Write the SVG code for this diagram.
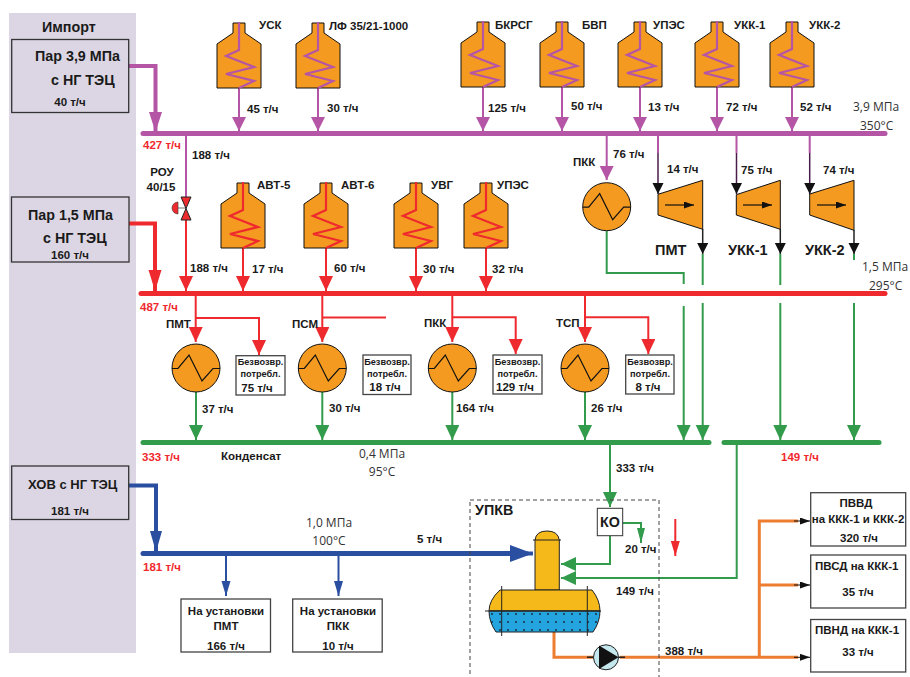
<svg xmlns="http://www.w3.org/2000/svg" width="910" height="677" viewBox="0 0 910 677">
<style>
text{font-family:"Liberation Sans",Arial,sans-serif;font-weight:700;font-size:11.5px;fill:#1a1a1a}
.r{fill:#f0282d}
.m{text-anchor:middle}
.big{font-size:14.3px}
.hov{font-size:13px}
.t14{font-size:14.5px}
.sm{font-size:9.2px;text-anchor:middle}
.n{font-family:"Open Sans",sans-serif;font-weight:400;font-size:12px;fill:#333}
.box{fill:#fff;stroke:#444;stroke-width:1.3}
.ipt{fill:#dcd6e4;stroke:#333;stroke-width:1.3}
.l{fill:none;stroke-linejoin:miter}
.p{stroke:#b455a5}.rd{stroke:#ee2a2e}.g{stroke:#339b4c}.b{stroke:#2a4ea0}.o{stroke:#ed7d31}.k{stroke:#111}
.w2{stroke-width:2}.w3{stroke-width:4}.bus{stroke-width:5;stroke-linecap:round}
.hx{fill:#f49a20;stroke:#111;stroke-width:1}
</style>
<defs>
<marker id="ap" markerUnits="userSpaceOnUse" markerWidth="14" markerHeight="16" refX="14" refY="7" orient="auto"><path d="M0 0L14 7L0 14z" fill="#b455a5"/></marker>
<marker id="ar" markerUnits="userSpaceOnUse" markerWidth="15" markerHeight="16" refX="15" refY="7" orient="auto"><path d="M0 0L15 7L0 14z" fill="#ee2a2e"/></marker>
<marker id="ars" markerUnits="userSpaceOnUse" markerWidth="15" markerHeight="10" refX="15" refY="4.500" orient="auto"><path d="M0 0L15 4.500L0 9z" fill="#ee2a2e"/></marker>
<marker id="ag" markerUnits="userSpaceOnUse" markerWidth="15" markerHeight="16" refX="15" refY="7" orient="auto"><path d="M0 0L15 7L0 14z" fill="#339b4c"/></marker>
<marker id="ags" markerUnits="userSpaceOnUse" markerWidth="15" markerHeight="10" refX="15" refY="4" orient="auto"><path d="M0 0L15 4L0 8z" fill="#339b4c"/></marker>
<marker id="ab" markerUnits="userSpaceOnUse" markerWidth="15" markerHeight="10" refX="15" refY="4.500" orient="auto"><path d="M0 0L15 4.500L0 9z" fill="#2a4ea0"/></marker>
<marker id="ak" markerUnits="userSpaceOnUse" markerWidth="11" markerHeight="12" refX="11" refY="5.500" orient="auto"><path d="M0 0L11 5.500L0 11z" fill="#111"/></marker>
<marker id="ak2" markerUnits="userSpaceOnUse" markerWidth="10" markerHeight="8" refX="10" refY="3.500" orient="auto"><path d="M0 0L10 3.500L0 7z" fill="#111"/></marker>
<marker id="apb" markerUnits="userSpaceOnUse" markerWidth="20" markerHeight="14" refX="20" refY="6.500" orient="auto"><path d="M0 0L20 6.500L0 13z" fill="#b455a5"/></marker>
<marker id="arb" markerUnits="userSpaceOnUse" markerWidth="21" markerHeight="14" refX="21" refY="6.500" orient="auto"><path d="M0 0L21 6.500L0 13z" fill="#ee2a2e"/></marker>
<marker id="abb" markerUnits="userSpaceOnUse" markerWidth="21" markerHeight="14" refX="21" refY="6" orient="auto"><path d="M0 0L21 6L0 12z" fill="#2a4ea0"/></marker>
<marker id="abh" markerUnits="userSpaceOnUse" markerWidth="23" markerHeight="18" refX="23" refY="8.500" orient="auto"><path d="M0 0L23 8.500L0 17z" fill="#2a4ea0"/></marker>
<symbol id="boil" overflow="visible"><path d="M-6 0H6V10L22 21V65H-22V21L-6 10z" fill="#f49a20" stroke="#111" stroke-width="1"/></symbol>
<symbol id="he" overflow="visible"><circle r="24" class="hx"/><path d="M-24 .5H-18L-7 -13L6 13L17 .5H24" fill="none" stroke="#111" stroke-width="1.200"/></symbol>
<path id="coil" d="M0 -1V27L-13 33L15 44L-13 51L15 58L0 65" fill="none" stroke-width="2.200"/>
<pattern id="dots" width="8" height="8" patternUnits="userSpaceOnUse" patternTransform="translate(489 611)"><rect width="8" height="8" fill="#25a5df"/><circle cx="3" cy="3" r=".9" fill="#123"/></pattern>
</defs>

<rect id="import-panel" x="9" y="13" width="127" height="640" fill="#dcd6e4"/>
<text x="42" y="32" class="big">Импорт</text>

<g id="connectors">
<path class="l p bus" d="M143 133.500H885"/>
<path class="l rd bus" d="M141 293.500H885"/>
<path class="l g bus" d="M143 442.500H709"/>
<path class="l g bus" d="M724 442.500H879"/>
<path class="l b bus" d="M143 553.500H511"/>
<path class="l b w3" d="M511 553.500H533" marker-end="url(#abh)"/>

<path class="l p w3" d="M128 66H155.500V132" marker-end="url(#apb)"/>
<path class="l rd w3" d="M128 223.500H155V291" marker-end="url(#arb)"/>
<path class="l b w3" d="M129 485.500H156V552" marker-end="url(#abb)"/>

<g class="l p w2" fill="none">
<path d="M239 88V131" marker-end="url(#ap)"/>
<path d="M318 88V131" marker-end="url(#ap)"/>
<path d="M483 87V131" marker-end="url(#ap)"/>
<path d="M562 87V131" marker-end="url(#ap)"/>
<path d="M640 87V131" marker-end="url(#ap)"/>
<path d="M717 87V131" marker-end="url(#ap)"/>
<path d="M792 87V131" marker-end="url(#ap)"/>
<path d="M606.700 133V180" marker-end="url(#ap)"/>
<path d="M186 133V197"/>
<path d="M658 133V153"/><path d="M736.500 133V153"/><path d="M809.700 133V153"/>
</g>
<g fill="none" stroke="#4a1c4a" stroke-width="1.500">
<path d="M658 153V194" marker-end="url(#ak)"/>
<path d="M736.500 153V194" marker-end="url(#ak)"/>
<path d="M809.700 153V194" marker-end="url(#ak)"/>
</g>
<g fill="none" stroke="#222" stroke-width="1.500">
<path d="M702.700 229V254" marker-end="url(#ak)"/>
<path d="M780.300 229V254" marker-end="url(#ak)"/>
<path d="M854 230V254" marker-end="url(#ak)"/>
</g>
<g class="l g w2">
<path d="M702.700 254V285"/><path d="M780.300 254V285"/><path d="M854 254V260"/>
<path d="M606.700 231V273H683.700V284"/>
<path d="M683.700 306V440" marker-end="url(#ag)"/>
<path d="M702.700 303V440" marker-end="url(#ag)"/>
<path d="M780.300 303V440" marker-end="url(#ag)"/>
<path d="M854 303V440" marker-end="url(#ag)"/>
<path d="M196 392V440" marker-end="url(#ag)"/>
<path d="M322.300 392V440" marker-end="url(#ag)"/>
<path d="M452.300 392V440" marker-end="url(#ag)"/>
<path d="M585 392V440" marker-end="url(#ag)"/>
<path d="M610 445V507" marker-end="url(#ag)"/>
<path d="M622.700 523H641V543" marker-end="url(#ags)"/>
<path d="M610 536V564H561" marker-end="url(#ag)"/>
<path d="M736.700 445V578H561" marker-end="url(#ag)"/>
</g>
<g class="l rd w2">
<path d="M186 220V291" marker-end="url(#ar)"/>
<path d="M243 248V291" marker-end="url(#ar)"/>
<path d="M326 248V291" marker-end="url(#ar)"/>
<path d="M416 248V291" marker-end="url(#ar)"/>
<path d="M486 248V291" marker-end="url(#ar)"/>
<path d="M195.700 293V342" marker-end="url(#ar)"/>
<path d="M195.700 318H259V355" marker-end="url(#ar)"/>
<path d="M322.300 293V342" marker-end="url(#ar)"/>
<path d="M322.300 317.500H386"/>
<path d="M452.300 293V342" marker-end="url(#ar)"/>
<path d="M452.300 317.300H515.700V354" marker-end="url(#ar)"/>
<path d="M585 293V342" marker-end="url(#ar)"/>
<path d="M585 317.300H648.300V354" marker-end="url(#ar)"/>
<path d="M675.300 519V556" marker-end="url(#ars)"/>
</g>
<g class="l b w2">
<path d="M226 553V596" marker-end="url(#ab)"/>
<path d="M338.500 553V596" marker-end="url(#ab)"/>
</g>
<g class="l o" stroke-width="3">
<path d="M554 632V657.300H594"/>
<path d="M620 657.300H798"/>
<path d="M798 521H759.300V657.300"/>
<path d="M759.300 585H798"/>
</g>
<g fill="none" stroke="#111" stroke-width="1">
<path d="M794 521H810" marker-end="url(#ak2)"/>
<path d="M794 585H810" marker-end="url(#ak2)"/>
<path d="M794 657.300H810" marker-end="url(#ak2)"/>
</g>
</g>

<g id="imp-39"><rect class="ipt" x="11.700" y="39.500" width="117" height="73"/><text x="35" y="61" class="big">Пар 3,9 МПа</text><text x="51" y="85" class="big">с НГ ТЭЦ</text><text x="70" y="106" class="m">40 т/ч</text></g>
<g id="imp-15"><rect class="ipt" x="11.500" y="197" width="117.500" height="65"/><text x="28" y="220" class="big">Пар 1,5 МПа</text><text x="43" y="243" class="big">с НГ ТЭЦ</text><text x="70" y="259" class="m">160 т/ч</text></g>
<g id="imp-hov"><rect class="ipt" x="11.700" y="466" width="117" height="53.500"/><text x="28" y="489" class="hov">ХОВ с НГ ТЭЦ</text><text x="70" y="515" class="m">181 т/ч</text></g>

<g id="b-usk"><use href="#boil" x="239" y="23"/><use href="#coil" x="239" y="23" stroke="#b455a5"/><text x="259" y="29">УСК</text></g>
<g id="b-lf"><use href="#boil" x="318" y="23"/><use href="#coil" x="318" y="23" stroke="#b455a5"/><text x="329" y="30">ЛФ 35/21-1000</text></g>
<g id="b-bkrsg"><use href="#boil" x="483" y="22"/><use href="#coil" x="483" y="22" stroke="#b455a5"/><text x="495" y="29">БКРСГ</text></g>
<g id="b-bvp"><use href="#boil" x="562" y="22"/><use href="#coil" x="562" y="22" stroke="#b455a5"/><text x="582" y="29">БВП</text></g>
<g id="b-upes1"><use href="#boil" x="640" y="22"/><use href="#coil" x="640" y="22" stroke="#b455a5"/><text x="653" y="29">УПЭС</text></g>
<g id="b-ukk1"><use href="#boil" x="717" y="22"/><use href="#coil" x="717" y="22" stroke="#b455a5"/><text x="734" y="29">УКК-1</text></g>
<g id="b-ukk2"><use href="#boil" x="792" y="22"/><use href="#coil" x="792" y="22" stroke="#b455a5"/><text x="809" y="29">УКК-2</text></g>

<g id="b-avt5"><use href="#boil" x="243" y="183"/><use href="#coil" x="243" y="183" stroke="#ee2a2e"/><text x="257" y="189">АВТ-5</text></g>
<g id="b-avt6"><use href="#boil" x="326" y="183"/><use href="#coil" x="326" y="183" stroke="#ee2a2e"/><text x="341" y="189">АВТ-6</text></g>
<g id="b-uvg"><use href="#boil" x="416" y="183"/><use href="#coil" x="416" y="183" stroke="#ee2a2e"/><text x="431" y="189">УВГ</text></g>
<g id="b-upes2"><use href="#boil" x="486" y="183"/><use href="#coil" x="486" y="183" stroke="#ee2a2e"/><text x="497" y="189">УПЭС</text></g>

<g id="rou">
<path d="M186 208H178" stroke="#777" stroke-width="1"/>
<path d="M178 202A6 6 0 0 0 178 214z" fill="#ee2a2e" stroke="#333" stroke-width=".6"/>
<path d="M181 197H191L181 220H191z" fill="#ee2a2e" stroke="#222" stroke-width="1"/>
<text x="162" y="176" class="m">РОУ</text><text x="161" y="191" class="m">40/15</text>
</g>

<g id="he-pkk-top"><use href="#he" x="606.700" y="206.700"/><text x="573" y="166">ПКК</text></g>
<g id="he-pmt"><use href="#he" x="196" y="368"/><text x="166" y="328">ПМТ</text></g>
<g id="he-psm"><use href="#he" x="322.300" y="368"/><text x="292" y="328">ПСМ</text></g>
<g id="he-pkk"><use href="#he" x="452.300" y="368"/><text x="424" y="327">ПКК</text></g>
<g id="he-tsp"><use href="#he" x="585" y="368"/><text x="556" y="327">ТСП</text></g>

<g id="t-pmt"><path class="hx" d="M658 194.300L702.700 180.300V229.300L658 215z"/><path d="M665 205H694" stroke="#111" stroke-width="1.200" marker-end="url(#ak2)"/><text x="655" y="255" class="t14">ПМТ</text></g>
<g id="t-ukk1"><path class="hx" d="M736.300 194.700L780.300 180.300V229.300L736.300 215z"/><path d="M743 205H772" stroke="#111" stroke-width="1.200" marker-end="url(#ak2)"/><text x="728" y="255" class="t14">УКК-1</text></g>
<g id="t-ukk2"><path class="hx" d="M809.700 194L854 180.300V230.300L809.700 215z"/><path d="M817 205H846" stroke="#111" stroke-width="1.200" marker-end="url(#ak2)"/><text x="805" y="255" class="t14">УКК-2</text></g>

<g id="c-pmt"><rect class="box" x="236" y="355.700" width="49" height="39.300"/><text x="260.500" y="365" class="sm">Безвозвр.</text><text x="260.500" y="377" class="sm">потребл.</text><text x="257" y="392" class="m">75 т/ч</text></g>
<g id="c-psm"><rect class="box" x="363" y="355" width="48" height="39.500"/><text x="387" y="365" class="sm">Безвозвр.</text><text x="387" y="377" class="sm">потребл.</text><text x="385" y="391" class="m">18 т/ч</text></g>
<g id="c-pkk"><rect class="box" x="493" y="355" width="49" height="39"/><text x="517.500" y="365" class="sm">Безвозвр.</text><text x="517.500" y="377" class="sm">потребл.</text><text x="515" y="391" class="m">129 т/ч</text></g>
<g id="c-tsp"><rect class="box" x="625.700" y="355" width="48.300" height="39"/><text x="650" y="365" class="sm">Безвозвр.</text><text x="650" y="377" class="sm">потребл.</text><text x="648" y="391" class="m">8 т/ч</text></g>

<g id="upkv">
<rect x="470" y="500" width="189" height="185" fill="none" stroke="#444" stroke-width="1" stroke-dasharray="4 3"/>
<text x="475" y="515" class="big">УПКВ</text>
<path d="M535 590V540Q536 531 547 531Q558 531 559.300 540V590z" fill="#f6b91a" stroke="#222" stroke-width="1"/>
<path d="M533 540H561" stroke="#222" stroke-width="1"/>
<path d="M500 590H592Q600 600 600 611H489Q489 600 500 590z" fill="#f6b91a" stroke="#222" stroke-width="1"/>
<path d="M489 611H600Q600 622 593 632H496Q489 622 489 611z" fill="url(#dots)" stroke="#222" stroke-width="1"/>
<path d="M485 611H601M501.700 586V636M587.300 586V636" stroke="#222" stroke-width="1" fill="none"/>
</g>
<g id="ko"><rect x="597.300" y="508.300" width="25.400" height="27.400" fill="#fff" stroke="#333" stroke-width="1"/><text x="610" y="527" class="m big">КО</text></g>
<g id="pump"><path d="M587 657.300H625" stroke="#222" stroke-width="1.500"/><circle cx="606" cy="657.300" r="12.500" fill="#c5e8ee" stroke="#222" stroke-width="1"/><path d="M599 645.500L618.500 657.300L599 669z" fill="#111"/></g>

<g id="d-pmt"><rect class="box" x="181" y="599" width="89.500" height="53"/><text x="226" y="615" class="m">На установки</text><text x="226" y="630" class="m">ПМТ</text><text x="226" y="650" class="m">166 т/ч</text></g>
<g id="d-pkk"><rect class="box" x="292.700" y="599" width="89.500" height="53"/><text x="338" y="615" class="m">На установки</text><text x="338" y="630" class="m">ПКК</text><text x="338" y="650" class="m">10 т/ч</text></g>
<g id="d-pvvd"><rect class="box" x="810.700" y="492.700" width="95" height="53.300"/><text x="856" y="507" class="m">ПВВД</text><text x="858" y="523" class="m">на ККК-1 и ККК-2</text><text x="859" y="542" class="m">320 т/ч</text></g>
<g id="d-pvsd"><rect class="box" x="810.700" y="555" width="95" height="53"/><text x="815" y="570">ПВСД на ККК-1</text><text x="858" y="596" class="m">35 т/ч</text></g>
<g id="d-pvnd"><rect class="box" x="810.700" y="619.500" width="95" height="52.500"/><text x="815" y="634">ПВНД на ККК-1</text><text x="858" y="656" class="m">33 т/ч</text></g>

<g id="labels">
<text x="247" y="113">45 т/ч</text><text x="327" y="112">30 т/ч</text><text x="488" y="112">125 т/ч</text><text x="571" y="110">50 т/ч</text><text x="648" y="111">13 т/ч</text><text x="726" y="111">72 т/ч</text><text x="800" y="111">52 т/ч</text>
<text x="192" y="159">188 т/ч</text><text x="190" y="272">188 т/ч</text>
<text x="143" y="149" class="r">427 т/ч</text><text x="140" y="311" class="r">487 т/ч</text><text x="142" y="461" class="r">333 т/ч</text><text x="781" y="461" class="r">149 т/ч</text><text x="143" y="571" class="r">181 т/ч</text>
<text x="252" y="273">17 т/ч</text><text x="334" y="272">60 т/ч</text><text x="423" y="273">30 т/ч</text><text x="492" y="273">32 т/ч</text>
<text x="613" y="158">76 т/ч</text><text x="667" y="173">14 т/ч</text><text x="741" y="174">75 т/ч</text><text x="823" y="174">74 т/ч</text>
<text x="202" y="413">37 т/ч</text><text x="329" y="412">30 т/ч</text><text x="456" y="412">164 т/ч</text><text x="591" y="412">26 т/ч</text>
<text x="221" y="460">Конденсат</text>
<text x="616" y="472">333 т/ч</text><text x="625" y="553">20 т/ч</text><text x="616" y="595">149 т/ч</text><text x="665" y="655">388 т/ч</text><text x="417" y="543">5 т/ч</text>
<text x="853" y="111" class="n">3,9 МПа</text><text x="860" y="130" class="n">350°С</text>
<text x="862" y="271" class="n">1,5 МПа</text><text x="869" y="290" class="n">295°С</text>
<text x="382" y="458" class="n m">0,4 МПа</text><text x="382" y="476" class="n m">95°С</text>
<text x="329" y="527" class="n m">1,0 МПа</text><text x="329" y="545" class="n m">100°С</text>
</g>
</svg>
